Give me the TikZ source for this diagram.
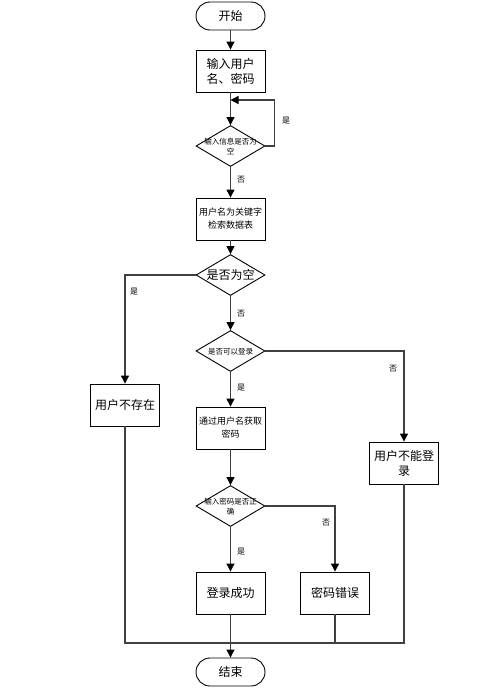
\documentclass[tikz,border=0pt]{standalone}
\usepackage{fontspec}
\newfontfamily\cjk{Noto Sans CJK SC}
\usetikzlibrary{arrows.meta,shapes.geometric}
\definecolor{fLine}{HTML}{404040}
\newcommand{\dtext}[1]{\smash{\makebox[0pt]{\raisebox{-0.4em}{\begin{tabular}{@{}c@{}}#1\end{tabular}}}}}

\begin{document}
\begin{tikzpicture}[
  x=1pt, y=-1pt, font=\cjk\fontsize{12}{15}\selectfont,
  term/.style={draw, line width=0.9pt, rounded corners=14pt,
               minimum width=69pt, minimum height=28pt},
  proc/.style={draw, line width=0.9pt, align=center, inner sep=1pt,
               minimum width=69pt, minimum height=42pt},
  dec/.style={draw, line width=0.9pt, diamond, inner sep=0pt,
              minimum width=69pt, minimum height=41pt},
  sml/.style={font=\cjk\fontsize{9}{13}\selectfont},
  tny/.style={font=\cjk\fontsize{7.5}{10}\selectfont},
  lbl/.style={font=\cjk\fontsize{8}{9}\selectfont},
  ar/.style={-{Triangle[length=8pt,width=8pt,color=black]}, draw=fLine, line width=1.1pt},
  ln/.style={draw=fLine, line width=1.1pt},
]
\useasboundingbox (0,0) rectangle (497,691);

% ---------------------------------------------------------------- input
\node[term] at (230.5,16) (start) {开始};
\node[proc] at (230.5,71) (input) {输入用户\\名、密码};
\node[dec, tny] at (230.5,146) (chkin) {\dtext{输入信息是否为\\空}};
\coordinate (loop) at (230.5,100);

% ---------------------------------------------------------------- query
\node[proc, sml] at (230.5,219) (query) {用户名为关键字\\检索数据表};
\node[dec] at (230.5,275) (empty) {\dtext{是否为空}};
\node[proc] at (125,405) (nouser) {用户不存在};

% ---------------------------------------------------------------- login
\node[dec, tny] at (230.5,351) (canlog) {\dtext{是否可以登录}};
\node[proc, sml] at (230.5,428) (getpw) {通过用户名获取\\密码};
\node[proc] at (404,463) (nolog) {用户不能登\\录};
\node[dec, tny] at (230.5,506) (chkpw) {\dtext{输入密码是否正\\确}};
\node[proc] at (230.5,593) (okay) {登录成功};
\node[proc] at (335,593) (badpw) {密码错误};
\node[term] at (230.5,672) (stop) {结束};
\coordinate (join) at (230.5,643);

% ---------------------------------------------------------------- arrows
\draw[ar] (start) -- (input);
\draw[ar] (input) -- (chkin);
\draw[ar] (chkin.east) -- ++(9,0) |- (loop);
\node[lbl] at (286,121) (yes1) {是};
\draw[ar] (chkin) -- (query);
\node[lbl] at (241,180) (no1) {否};
\draw[ar] (query) -- (empty);
\draw[ar] (empty.west) -| (nouser.north);
\node[lbl] at (134,292) (yes2) {是};
\draw[ar] (empty) -- (canlog);
\node[lbl] at (241,314) (no2) {否};
\draw[ar] (canlog.east) -| (nolog.north);
\node[lbl] at (393,369) (no3) {否};
\draw[ar] (canlog) -- (getpw);
\node[lbl] at (241,388) (yes3) {是};
\draw[ar] (getpw) -- (chkpw);
\draw[ar] (chkpw.east) -| (badpw.north);
\node[lbl] at (326,523) (no4) {否};
\draw[ar] (chkpw) -- (okay);
\node[lbl] at (241,552) (yes4) {是};
\draw[ar] (okay) -- (stop);
\draw[ln] (nouser.south) |- (join);
\draw[ln] (nolog.south) |- (join);
\draw[ln] (badpw.south) |- (join);

\end{tikzpicture}
\end{document}
